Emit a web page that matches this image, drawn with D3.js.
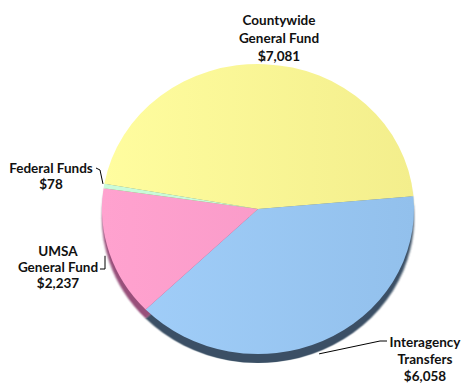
<!DOCTYPE html>
<html>
<head>
<meta charset="utf-8">
<script src="https://cdnjs.cloudflare.com/ajax/libs/d3/7.8.5/d3.min.js"></script>
<style>
  html, body { margin: 0; padding: 0; background: #ffffff; }
  svg { display: block; }
  .label text { font-family: Lato, "Open Sans", sans-serif; font-weight: bold; font-size: 13.5px; fill: #111; }
</style>
</head>
<body>
<div id="chart"></div>
<script>
// data (millions)
var categories = ['Countywide General Fund', 'Interagency Transfers', 'UMSA General Fund', 'Federal Funds'];
var values = [7081, 6058, 2237, 78];
var labelLines = [
  ['Countywide', 'General Fund'],
  ['Interagency', 'Transfers'],
  ['UMSA', 'General Fund'],
  ['Federal Funds']
];
var topColors = [['#fffd9f', '#f3ee8c'], ['#a2cffa', '#92c0ec'], ['#ffa2cf', '#f596c4'], ['#c9fbd9', '#c9fbd9']];
var sideColors = ['#8f8c4e', '#3a5065', '#98507a', '#6d9a7d'];

var width = 461, height = 385;
var cx = 258, cy = 209, rx = 156, ry = 145, depth = 9;
var startDeg = -80;

// label layout: text centre x, first baseline, line height, leader polyline
var labelLayout = [
  { x: 279, y: 25, lh: 18, leader: function (p) { return [[p[0], p[1] - 5], p]; } },
  { x: 425, y: 347, lh: 17, leader: function (p) { return [[387, 341], [380, 341], p]; } },
  { x: 58, y: 256, lh: 16, leader: function (p) { return [[100, 269], [105, 269], [105, p[1]]]; } },
  { x: 51, y: 173, lh: 16, leader: function (p) { return [[96, 168], [100, 170], p]; } }
];

var svg = d3.select('#chart')
  .append('svg')
  .attr('width', width)
  .attr('height', height);

var defs = svg.append('defs');
defs.append('filter')
  .attr('id', 'soft')
  .append('feGaussianBlur')
  .attr('stdDeviation', 0.8);

topColors.forEach(function (c, i) {
  var g = defs.append('linearGradient')
    .attr('id', 'grad' + i)
    .attr('gradientUnits', 'userSpaceOnUse')
    .attr('x1', -rx).attr('y1', 0)
    .attr('x2', rx).attr('y2', 0);
  g.append('stop').attr('offset', '0%').attr('stop-color', c[0]);
  g.append('stop').attr('offset', '100%').attr('stop-color', c[1]);
});

var pie = d3.pie()
  .sort(null)
  .startAngle(startDeg * Math.PI / 180)
  .endAngle((startDeg + 360) * Math.PI / 180);

var arcs = pie(values);
var arc = d3.arc().innerRadius(0).outerRadius(rx);
var k = ry / rx;

// side / shadow of the tilted pie
svg.append('g')
  .attr('transform', 'translate(' + cx + ',' + (cy + depth) + ') scale(1,' + k + ')')
  .attr('filter', 'url(#soft)')
  .selectAll('path')
  .data(arcs)
  .enter()
  .append('path')
  .attr('d', arc)
  .attr('fill', function (d, i) { return sideColors[i]; });

// top surface
svg.append('g')
  .attr('transform', 'translate(' + cx + ',' + cy + ') scale(1,' + k + ')')
  .selectAll('path')
  .data(arcs)
  .enter()
  .append('path')
  .attr('d', arc)
  .attr('fill', function (d, i) { return 'url(#grad' + i + ')'; });

// labels + leaders
var money = d3.format('$,');
function edgePoint(d, i) {
  var a = (d.startAngle + d.endAngle) / 2;
  var extra = i === 1 ? depth + 3 : 2;
  return [cx + (rx + 1) * Math.sin(a) - (i === 1 ? 4 : 0), cy - (ry + 1) * Math.cos(a) + (Math.cos(a) < 0 ? extra : -2)];
}

var line = d3.line();
var labels = svg.append('g').attr('class', 'label');

arcs.forEach(function (d, i) {
  var lay = labelLayout[i];
  var p = edgePoint(d, i);
  labels.append('path')
    .attr('d', line(lay.leader(p)))
    .attr('fill', 'none')
    .attr('stroke', '#000')
    .attr('stroke-width', 1);

  var t = labels.append('text')
    .attr('text-anchor', 'middle');
  labelLines[i].concat([money(values[i])]).forEach(function (s, j) {
    t.append('tspan')
      .attr('x', lay.x)
      .attr('y', lay.y + j * lay.lh)
      .text(s);
  });
});
</script>
</body>
</html>
